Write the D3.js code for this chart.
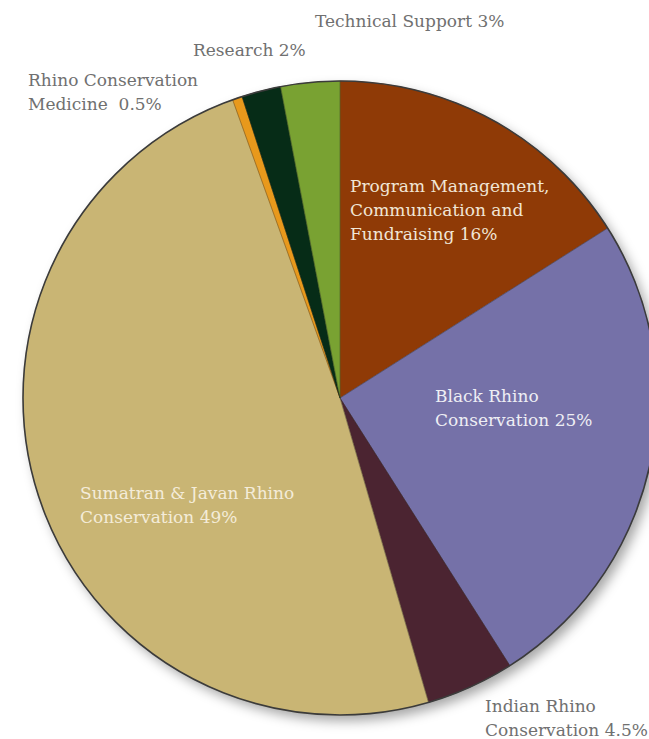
<!DOCTYPE html>
<html>
<head>
<meta charset="utf-8">
<script src="https://cdn.jsdelivr.net/npm/d3@7"></script>
<style>
  body { margin: 0; background: #fff; }
  svg { display: block; }
  .lbl { font-family: "DejaVu Serif", serif; font-size: 17px; }
</style>
</head>
<body>
<svg class="budget-pie"></svg>
<script>
const width = 649;
const height = 739;
const cx = 340, cy = 398, radius = 317;

// slices, clockwise from 12 o'clock
const categories = [
    "Program Management, Communication and Fundraising",
    "Black Rhino Conservation",
    "Indian Rhino Conservation",
    "Sumatran & Javan Rhino Conservation",
    "Rhino Conservation Medicine",
    "Research",
    "Technical Support"
];
const shares = [16, 25, 4.5, 49, 0.5, 2, 3];
const colors = ["#8f3a06", "#7571a8", "#4b2431", "#c9b574", "#e8991c", "#062c17", "#79a232"];

// label text, one entry per line
const labelLines = [
    ["Program Management,", "Communication and", "Fundraising 16%"],
    ["Black Rhino", "Conservation 25%"],
    ["Indian Rhino", "Conservation 4.5%"],
    ["Sumatran & Javan Rhino", "Conservation 49%"],
    ["Rhino Conservation", "Medicine  0.5%"],
    ["Research 2%"],
    ["Technical Support 3%"]
];
// where each label sits (left x, first baseline) and its colour
const labelPos = [
    { x: 350, y: 192, fill: "#f1e6d6" },
    { x: 435, y: 402, fill: "#eeeef4" },
    { x: 485, y: 712, fill: "#707070" },
    { x: 80,  y: 499, fill: "#f4ecd9" },
    { x: 28,  y: 86,  fill: "#707070" },
    { x: 193, y: 56,  fill: "#707070" },
    { x: 315, y: 27,  fill: "#707070" }
];
const lineHeight = 24;

const svg = d3.select('svg.budget-pie')
    .attr('width', width)
    .attr('height', height);

// soft shadow down to the right
const defs = svg.append('defs');
const shadow = defs.append('filter')
    .attr('id', 'shadow')
    .attr('x', '-10%').attr('y', '-10%')
    .attr('width', '125%').attr('height', '125%');
shadow.append('feDropShadow')
    .attr('dx', 5).attr('dy', 6)
    .attr('stdDeviation', 6)
    .attr('flood-color', '#000')
    .attr('flood-opacity', 0.35);

const pie = d3.pie().sort(null).value(d => d);
const arc = d3.arc().innerRadius(0).outerRadius(radius);

const group = svg.append('g')
    .attr('transform', `translate(${cx},${cy})`);

// shadow disc behind the slices
group.append('circle')
    .attr('r', radius)
    .attr('fill', '#c9b574')
    .attr('filter', 'url(#shadow)');

group.selectAll('path.slice')
    .data(pie(shares))
    .join('path')
    .attr('class', 'slice')
    .attr('d', arc)
    .attr('fill', (d, i) => colors[i])
    .attr('stroke', (d, i) => colors[i])
    .attr('stroke-width', 0.5);

// thin slice edges
group.selectAll('line.edge')
    .data(pie(shares))
    .join('line')
    .attr('class', 'edge')
    .attr('x2', d => radius * Math.sin(d.startAngle))
    .attr('y2', d => -radius * Math.cos(d.startAngle))
    .attr('stroke', '#222')
    .attr('stroke-opacity', 0.35)
    .attr('stroke-width', 1);

// outline round the pie
group.append('circle')
    .attr('r', radius)
    .attr('fill', 'none')
    .attr('stroke', '#3b3b3b')
    .attr('stroke-width', 1.6);

// labels
const labels = svg.selectAll('text.lbl')
    .data(categories)
    .join('text')
    .attr('class', 'lbl')
    .attr('x', (d, i) => labelPos[i].x)
    .attr('y', (d, i) => labelPos[i].y)
    .attr('fill', (d, i) => labelPos[i].fill)
    .attr('xml:space', 'preserve');

labels.each(function(d, i) {
    d3.select(this).selectAll('tspan')
        .data(labelLines[i])
        .join('tspan')
        .attr('x', labelPos[i].x)
        .attr('dy', (t, j) => j === 0 ? 0 : lineHeight)
        .text(t => t);
});
</script>
</body>
</html>
